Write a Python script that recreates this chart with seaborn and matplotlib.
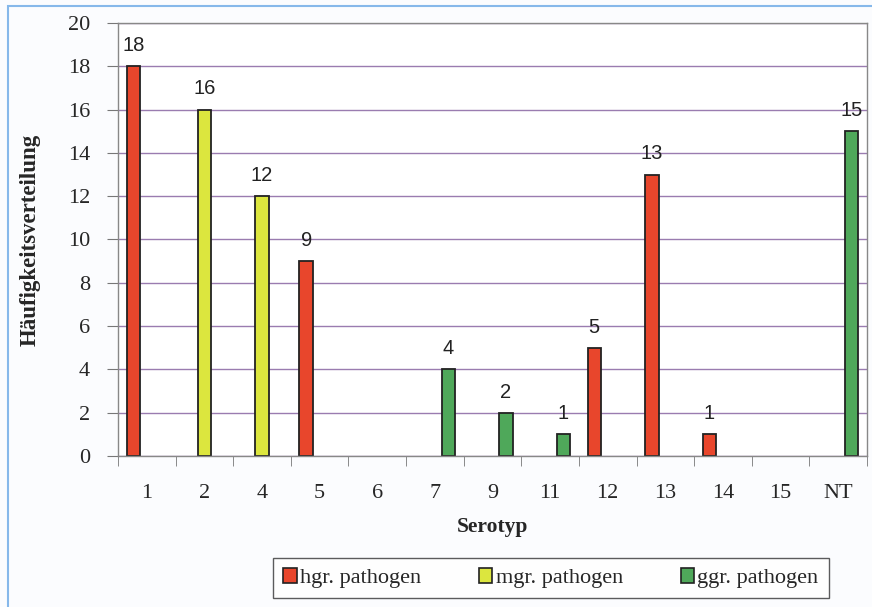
import numpy as np
import pandas as pd
import matplotlib
matplotlib.use("Agg")
import matplotlib.pyplot as plt
from matplotlib.patches import Patch, Rectangle
import seaborn as sns

categories = ["1", "2", "4", "5", "6", "7", "9", "11", "12", "13", "14", "15", "NT"]
hgr = [18, 0, 0, 9, 0, 0, 0, 0, 5, 13, 1, 0, 0]
mgr = [0, 16, 12, 0, 0, 0, 0, 0, 0, 0, 0, 0, 0]
ggr = [0, 0, 0, 0, 0, 4, 2, 1, 0, 0, 0, 0, 15]
series_names = ["hgr. pathogen", "mgr. pathogen", "ggr. pathogen"]
colors = ["#e8462c", "#dce63e", "#4fa85a"]

rows = []
for name, vals in zip(series_names, [hgr, mgr, ggr]):
    for c, v in zip(categories, vals):
        rows.append({"Serotyp": c, "Gruppe": name, "Wert": v if v > 0 else np.nan})
df = pd.DataFrame(rows)

sns.set_style("white")
plt.rcParams["font.family"] = ["Liberation Serif", "DejaVu Serif"]

fig = plt.figure(figsize=(8.72, 6.07), dpi=100, facecolor="#fbfcfe")
ax = fig.add_axes([118 / 872, 1 - 456 / 607, 749 / 872, (456 - 23) / 607])
ax.set_facecolor("white")

sns.barplot(data=df, x="Serotyp", y="Wert", hue="Gruppe", order=categories,
            hue_order=series_names, palette=colors, width=0.7, dodge=True,
            edgecolor="#222222", linewidth=1.3, saturation=1, ax=ax, legend=False,
            errorbar=None)

for cont in ax.containers:
    labels = []
    for bar in cont:
        h = bar.get_height()
        labels.append("" if (h is None or np.isnan(h) or h == 0) else f"{int(round(h))}")
    ax.bar_label(cont, labels=labels, padding=8, fontsize=14.5,
                 family=["Liberation Sans", "DejaVu Sans"], color="#222222")

ax.set_ylim(0, 20)
ax.set_xlim(-0.5, len(categories) - 0.5)
ax.set_yticks(range(0, 21, 2))
ax.yaxis.grid(True, color="#9a7cb0", linewidth=1.0)
ax.set_axisbelow(True)
ax.tick_params(axis="y", labelsize=16, length=8, color="#777777", left=True, pad=12)
ax.tick_params(axis="x", which="major", labelsize=16, length=0, pad=20)
ax.set_xticks(np.arange(-0.5, len(categories), 1.0), minor=True)
ax.tick_params(axis="x", which="minor", length=7, color="#777777", bottom=True)
for s in ax.spines.values():
    s.set_color("#888888")
    s.set_linewidth(1.0)

ax.set_xlabel("Serotyp", fontsize=15.5, fontweight="bold", labelpad=10)
ax.set_ylabel("Häufigkeitsverteilung", fontsize=16.5, fontweight="bold", labelpad=20)

handles = [Patch(facecolor=c, edgecolor="#222222", linewidth=1.2) for c in colors]
leg = fig.legend(handles, series_names, loc="center", bbox_to_anchor=(551 / 872, 1 - 578 / 607),
                 ncol=3, frameon=True, fancybox=False, fontsize=16, handlelength=0.6,
                 handleheight=0.7, handletextpad=0.15, columnspacing=2.6, borderpad=0.45,
                 borderaxespad=0.0)
leg.get_frame().set_edgecolor("#333333")
leg.get_frame().set_linewidth(1.0)

fig.patches.append(Rectangle((8 / 872, -0.05), 1.1, 1 - 6 / 607 + 0.05, transform=fig.transFigure,
                             fill=False, edgecolor="#86b8ea", linewidth=1.5, zorder=0))

fig.savefig("out.png", dpi=100, facecolor=fig.get_facecolor())
